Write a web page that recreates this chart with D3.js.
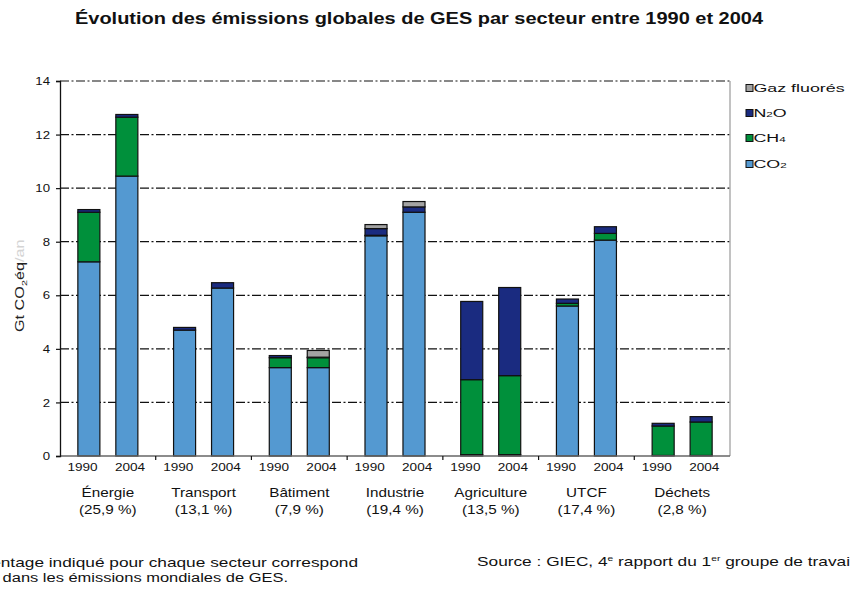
<!DOCTYPE html>
<html>
<head>
<meta charset="utf-8">
<script src="https://cdn.jsdelivr.net/npm/d3@7"></script>
<style>
  body { margin: 0; background: #fff; }
  svg { display: block; font-family: 'Liberation Sans', Arial, sans-serif; }
</style>
</head>
<body>
<div id="chart"></div>
<script>
// sectors and their share of world GHG emissions
const sectors = ['Énergie', 'Transport', 'Bâtiment', 'Industrie', 'Agriculture', 'UTCF', 'Déchets']
const shares = ['(25,9 %)', '(13,1 %)', '(7,9 %)', '(19,4 %)', '(13,5 %)', '(17,4 %)', '(2,8 %)']
const years = ['1990', '2004']

// Gt CO2eq, order: Énergie 1990, Énergie 2004, Transport 1990, ...
const co2 = [7.25, 10.45, 4.7, 6.27, 3.3, 3.3, 8.22, 9.1, 0.05, 0.05, 5.6, 8.06, 0.02, 0.02]
const ch4 = [1.85, 2.2, 0, 0, 0.37, 0.37, 0.02, 0, 2.8, 2.95, 0.1, 0.25, 1.1, 1.25]
const n2o = [0.1, 0.1, 0.1, 0.2, 0.08, 0.02, 0.25, 0.2, 2.92, 3.29, 0.16, 0.25, 0.1, 0.2]
const fgas = [0, 0, 0, 0, 0, 0.25, 0.15, 0.2, 0, 0, 0, 0, 0, 0]

const yTicks = [0, 2, 4, 6, 8, 10, 12, 14]

const keys = ['co2', 'ch4', 'n2o', 'fgas']
const colors = { co2: '#5499d1', ch4: '#00903b', n2o: '#1a2b80', fgas: '#a3a3a3' }

const width = 850, height = 592
const margin = { left: 60, right: 120, top: 81, bottom: 136 }

const svg = d3.select('#chart').append('svg')
	.attr('width', width)
	.attr('height', height)

// the scanned original is stretched horizontally, so texts are too
function place(x, y, sx) {
	return 'translate(' + x + ',' + y + ') scale(' + sx + ',1)'
}

// build rows for stacking
const rows = []
sectors.forEach(function (s, i) {
	years.forEach(function (yr, j) {
		const k = i * 2 + j
		rows.push({ sector: s, year: yr, co2: co2[k], ch4: ch4[k], n2o: n2o[k], fgas: fgas[k] })
	})
})

const x0 = d3.scaleBand()
	.domain(sectors)
	.range([margin.left, width - margin.right])

const x1 = d3.scaleBand()
	.domain(years)
	.range([0, x0.bandwidth()])
	.paddingInner(0.42)
	.paddingOuter(0.47)

// year labels sit a little wider apart than the bars
const xLabel = d3.scalePoint()
	.domain(years)
	.range([22.5, 70])

const y = d3.scaleLinear()
	.domain([0, 14])
	.range([height - margin.bottom, margin.top])

// title
svg.append('text')
	.attr('x', 419)
	.attr('y', 24)
	.attr('text-anchor', 'middle')
	.attr('font-size', 17)
	.attr('font-weight', 'bold')
	.attr('textLength', 688)
	.attr('lengthAdjust', 'spacingAndGlyphs')
	.attr('fill', '#111')
	.text('Évolution des émissions globales de GES par secteur entre 1990 et 2004')

// dash-dot gridlines
svg.append('g')
	.selectAll('line')
	.data(yTicks.filter(d => d > 0))
	.join('line')
	.attr('x1', margin.left)
	.attr('x2', width - margin.right)
	.attr('y1', d => y(d))
	.attr('y2', d => y(d))
	.attr('stroke', '#111')
	.attr('stroke-width', 1.2)
	.attr('stroke-dasharray', '9,2.5,2,2.5')

// right border
svg.append('line')
	.attr('x1', width - margin.right).attr('x2', width - margin.right)
	.attr('y1', y(14)).attr('y2', y(0))
	.attr('stroke', '#999')
	.attr('stroke-width', 1.2)

// stacked bars
const stacked = d3.stack().keys(keys)(rows)

svg.append('g')
	.selectAll('g')
	.data(stacked)
	.join('g')
	.attr('fill', d => colors[d.key])
	.selectAll('rect')
	.data(d => d.filter(p => p[1] - p[0] > 0))
	.join('rect')
	.attr('x', d => x0(d.data.sector) + x1(d.data.year))
	.attr('width', x1.bandwidth())
	.attr('y', d => y(d[1]))
	.attr('height', d => y(d[0]) - y(d[1]))
	.attr('stroke', '#111')
	.attr('stroke-width', 1.2)

// baseline
svg.append('line')
	.attr('x1', margin.left).attr('x2', width - margin.right)
	.attr('y1', y(0)).attr('y2', y(0))
	.attr('stroke', '#666')
	.attr('stroke-width', 1.6)

// y axis
const yAxis = svg.append('g')
	.attr('transform', 'translate(' + margin.left + ',0)')
	.call(d3.axisLeft(y).tickValues(yTicks).tickSize(4).tickPadding(6))
yAxis.select('.domain').attr('stroke', '#111').attr('stroke-width', 1.3)
yAxis.selectAll('.tick line').attr('stroke', '#111').attr('stroke-width', 1.2)
yAxis.selectAll('.tick text')
	.attr('x', null)
	.attr('transform', place(-10, 0, 1.15))
	.attr('font-size', 11.5)
	.attr('font-family', "'Liberation Sans', Arial, sans-serif")
	.attr('fill', '#111')

// category ticks on x axis
svg.append('g')
	.selectAll('line')
	.data(sectors.slice(1))
	.join('line')
	.attr('x1', d => x0(d)).attr('x2', d => x0(d))
	.attr('y1', y(0)).attr('y2', y(0) + 4)
	.attr('stroke', '#111')
	.attr('stroke-width', 1.2)

// year labels
svg.append('g')
	.selectAll('text')
	.data(rows)
	.join('text')
	.attr('transform', d => place(x0(d.sector) + xLabel(d.year), 471, 1.18))
	.attr('text-anchor', 'middle')
	.attr('font-size', 11.5)
	.attr('fill', '#111')
	.text(d => d.year)

// sector names and shares
const cat = svg.append('g')
	.selectAll('g')
	.data(sectors)
	.join('g')
	.attr('transform', d => 'translate(' + (x0(d) + x0.bandwidth() / 2) + ',0)')
cat.append('text')
	.attr('transform', place(0, 497, 1.22))
	.attr('text-anchor', 'middle')
	.attr('font-size', 12.5)
	.attr('fill', '#111')
	.text(d => d)
cat.append('text')
	.attr('transform', place(0, 514, 1.22))
	.attr('text-anchor', 'middle')
	.attr('font-size', 12.5)
	.attr('fill', '#111')
	.text((d, i) => shares[i])

// y axis title
const yt = svg.append('text')
	.attr('transform', 'translate(24,332) rotate(-90) scale(1.35,1)')
	.attr('font-size', 12)
	.attr('fill', '#222')
yt.append('tspan').text('Gt CO')
yt.append('tspan').attr('font-size', 8).attr('dy', 3).text('2')
yt.append('tspan').attr('dy', -3).text('éq')
yt.append('tspan').attr('fill', '#d4d4d4').text('/an')

// legend
const legendItems = [
	{ key: 'fgas', label: 'Gaz fluorés', sub: '', tail: '' },
	{ key: 'n2o', label: 'N', sub: '2', tail: 'O' },
	{ key: 'ch4', label: 'CH', sub: '4', tail: '' },
	{ key: 'co2', label: 'CO', sub: '2', tail: '' }
]
const lg = svg.append('g')
	.selectAll('g')
	.data(legendItems)
	.join('g')
	.attr('transform', (d, i) => 'translate(746,' + [88, 113, 138, 164][i] + ')')
lg.append('rect')
	.attr('x', 0).attr('y', -3.5)
	.attr('width', 7).attr('height', 7)
	.attr('fill', d => colors[d.key])
	.attr('stroke', '#111')
	.attr('stroke-width', 1)
const lt = lg.append('text')
	.attr('transform', place(7.5, 4, 1.55))
	.attr('font-size', 11.5)
	.attr('fill', '#111')
lt.append('tspan').text(d => d.label)
lt.append('tspan').attr('font-size', 7.5).text(d => d.sub)
lt.append('tspan').text(d => d.tail)

// footnotes (the left part is cut off in the original)
svg.append('text')
	.attr('transform', place(358, 567, 1.28))
	.attr('text-anchor', 'end')
	.attr('font-size', 13.5)
	.attr('fill', '#111')
	.text('Le pourcentage indiqué pour chaque secteur correspond')
svg.append('text')
	.attr('transform', place(288, 582, 1.22))
	.attr('text-anchor', 'end')
	.attr('font-size', 13.5)
	.attr('fill', '#111')
	.text('à sa part dans les émissions mondiales de GES.')

const src = svg.append('text')
	.attr('transform', place(477, 566, 1.28))
	.attr('font-size', 13.5)
	.attr('fill', '#111')
src.append('tspan').text('Source : GIEC, 4')
src.append('tspan').attr('font-size', 8).attr('dy', -5).text('e')
src.append('tspan').attr('dy', 5).text(' rapport du 1')
src.append('tspan').attr('font-size', 8).attr('dy', -5).text('er')
src.append('tspan').attr('dy', 5).text(' groupe de travail')
</script>
</body>
</html>
